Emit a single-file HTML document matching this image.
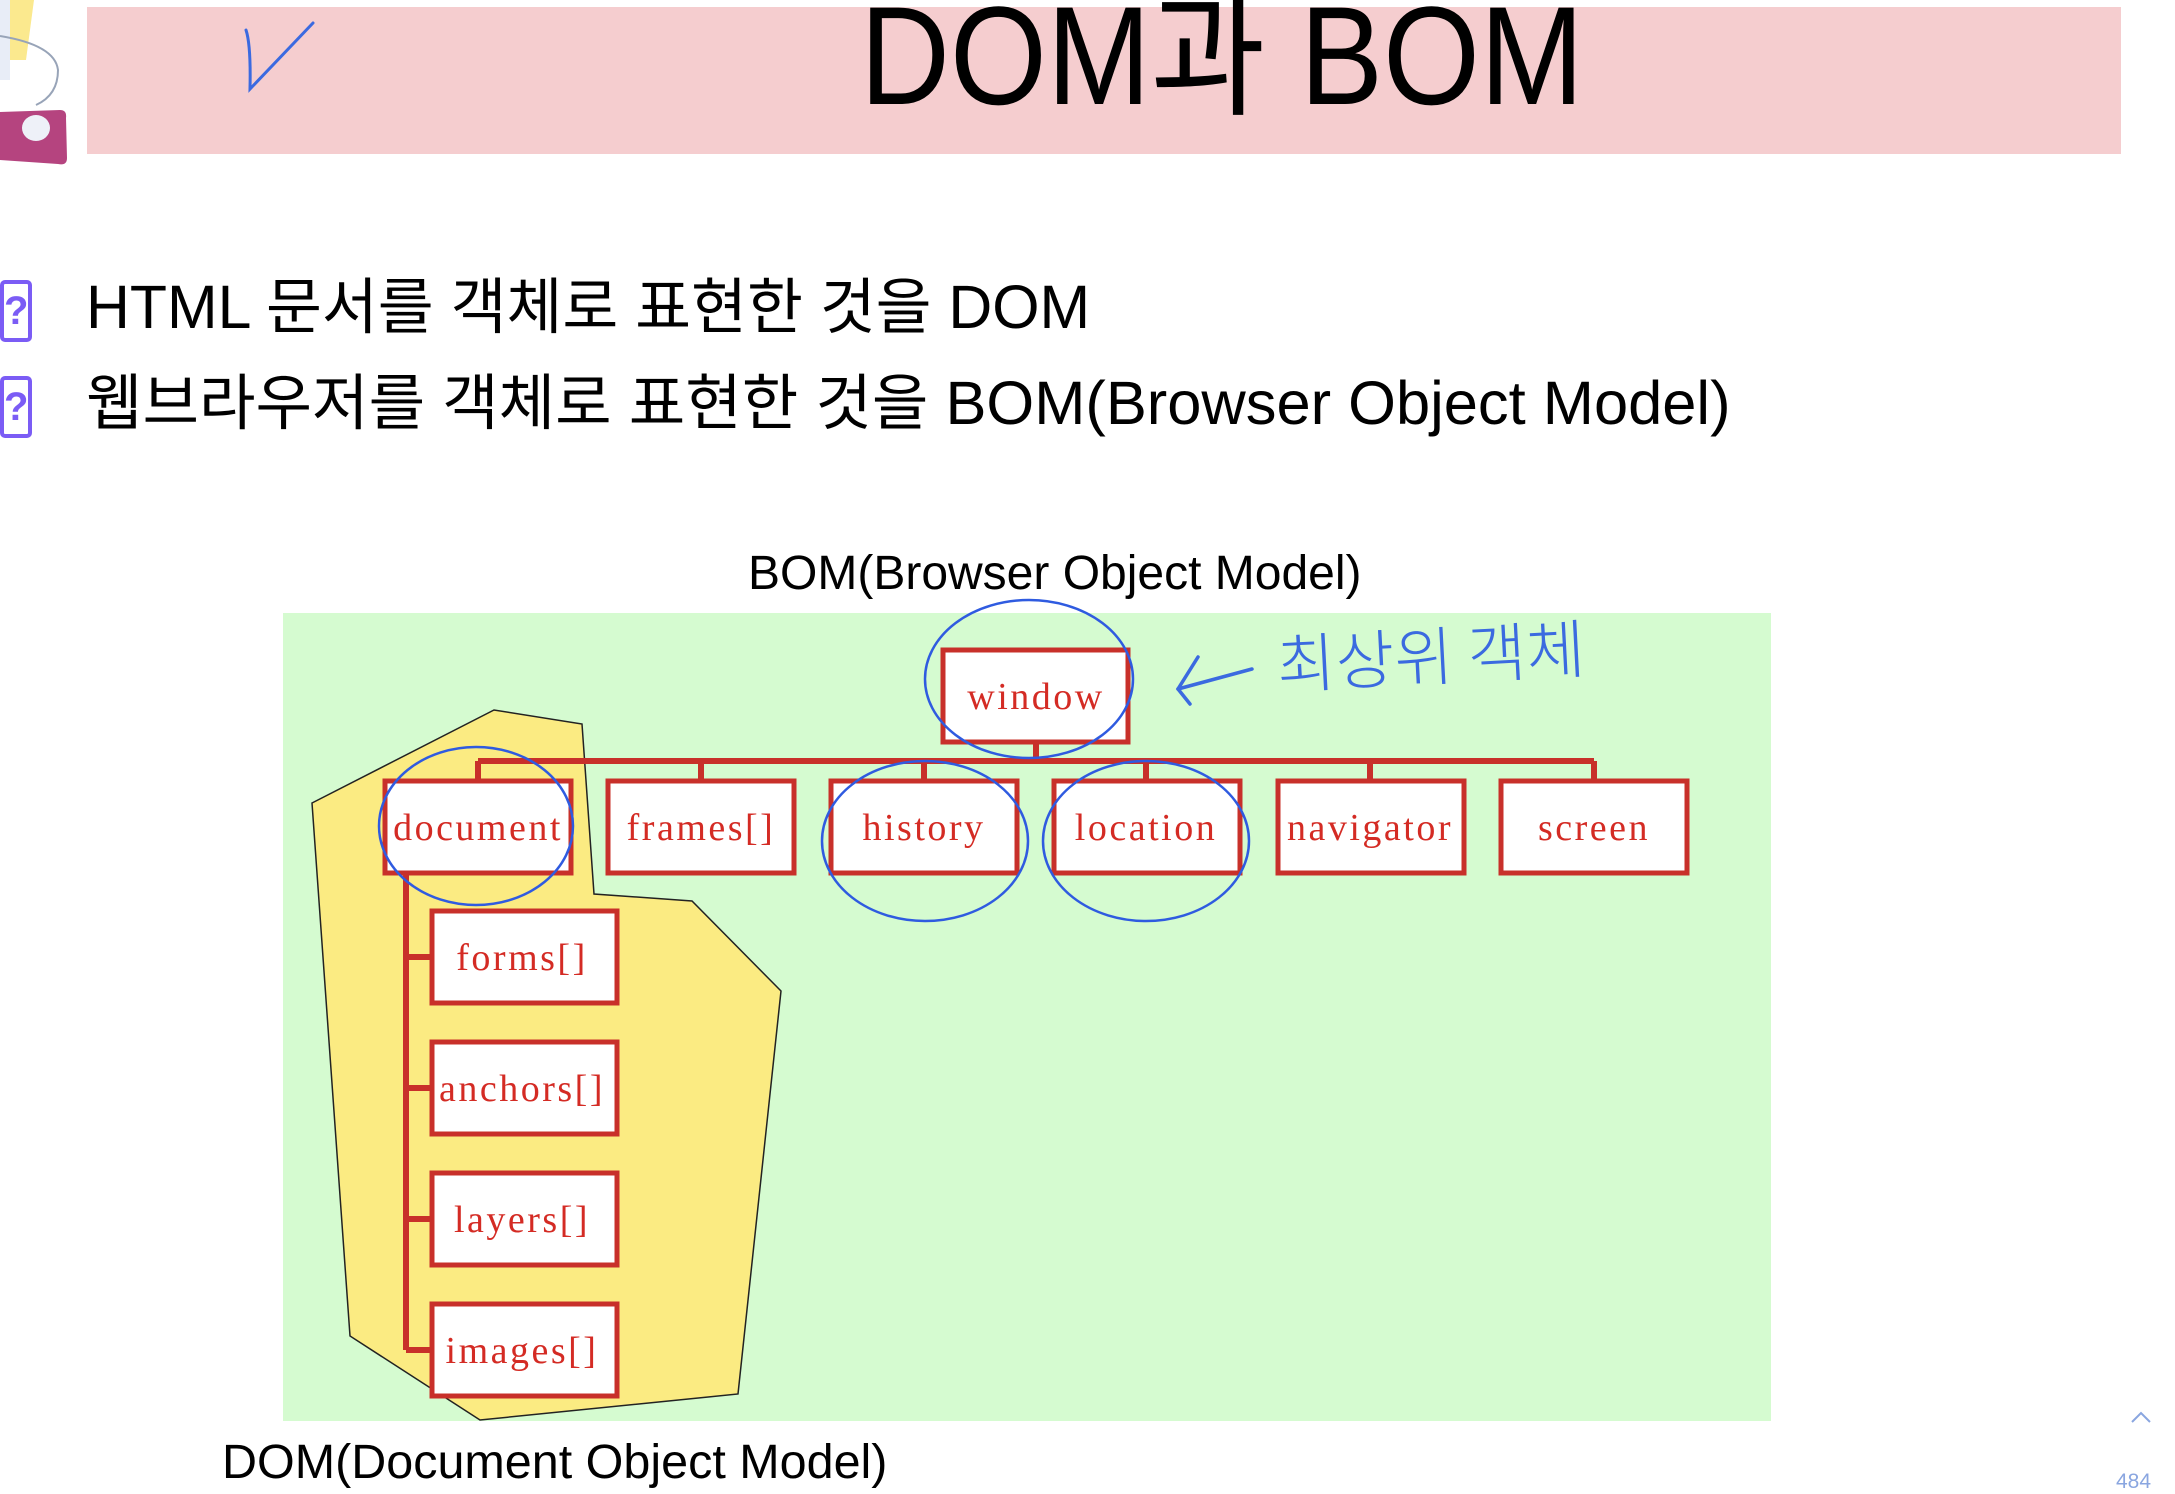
<!DOCTYPE html>
<html><head><meta charset="utf-8"><style>
body{margin:0;width:2175px;height:1491px;background:#fff;position:relative;overflow:hidden;font-family:"Liberation Sans","Noto Sans CJK KR",sans-serif}
.a{position:absolute;white-space:nowrap}
.bx{position:absolute;width:24px;height:54px;border:4px solid #7b5cf5;border-radius:5px;color:#7b5cf5;font-weight:bold;font-size:40px;text-align:center;line-height:54px}
</style></head><body>
<svg class="a" style="left:0;top:0" width="2175" height="1491">
<rect x="87" y="7" width="2034" height="147" fill="#f5cdcf"/>
<polygon points="8,0 34,0 26,60 5,60" fill="#fbe98e"/>
<rect x="0" y="0" width="10" height="80" fill="#e8edf7"/>
<path d="M0,36 Q55,45 58,70 Q58,95 36,105" stroke="#98a4b8" stroke-width="2" fill="none"/>
<path d="M0,112 L60,110 Q67,110 66,118 L67,158 Q67,166 58,164 L0,160Z" fill="#b5447f"/>
<ellipse cx="36" cy="128" rx="14" ry="13" fill="#eef1f8"/>
<path d="M246,30 Q251,45 250,89 L313,23" stroke="#3b6ae0" stroke-width="3" fill="none" stroke-linecap="round"/>
<rect x="283" y="613" width="1488" height="808" fill="#d5fbd0"/>
<polygon points="312,803 494,710 582,724 594,894 692,901 781,991 738,1394 480,1420 350,1336" fill="#fbeb82" stroke="#222" stroke-width="1.5"/>
<g stroke="#c8302a" stroke-width="6" fill="none">
<line x1="1036" y1="742" x2="1036" y2="761"/>
<line x1="478" y1="761" x2="1594" y2="761"/>
<line x1="478" y1="761" x2="478" y2="781"/><line x1="701" y1="761" x2="701" y2="781"/>
<line x1="924" y1="761" x2="924" y2="781"/><line x1="1146" y1="761" x2="1146" y2="781"/>
<line x1="1370" y1="761" x2="1370" y2="781"/><line x1="1594" y1="761" x2="1594" y2="781"/>
<line x1="406" y1="873" x2="406" y2="1350"/>
<line x1="406" y1="957" x2="432" y2="957"/><line x1="406" y1="1088" x2="432" y2="1088"/>
<line x1="406" y1="1219" x2="432" y2="1219"/><line x1="406" y1="1350" x2="432" y2="1350"/>
</g>
<g fill="#fff" stroke="#c8302a" stroke-width="5">
<rect x="943" y="650" width="185" height="92"/>
<rect x="385" y="781" width="186" height="92"/><rect x="608" y="781" width="186" height="92"/>
<rect x="831" y="781" width="186" height="92"/><rect x="1054" y="781" width="186" height="92"/>
<rect x="1278" y="781" width="186" height="92"/><rect x="1501" y="781" width="186" height="92"/>
<rect x="432" y="911" width="185" height="92"/><rect x="432" y="1042" width="185" height="92"/>
<rect x="432" y="1173" width="185" height="92"/><rect x="432" y="1304" width="185" height="92"/>
</g>
<g font-family="Liberation Serif,serif" font-size="38" letter-spacing="2.5" fill="#d42b24" text-anchor="middle">
<text x="1036" y="709">window</text>
<text x="478" y="840">document</text><text x="701" y="840">frames[]</text>
<text x="924" y="840">history</text><text x="1146" y="840">location</text>
<text x="1370" y="840">navigator</text><text x="1594" y="840">screen</text>
<text x="522" y="970">forms[]</text><text x="522" y="1101">anchors[]</text>
<text x="522" y="1232">layers[]</text><text x="522" y="1363">images[]</text>
</g>
<g stroke="#2f5be0" stroke-width="2.5" fill="none">
<ellipse cx="1029" cy="679" rx="104" ry="79"/>
<ellipse cx="476" cy="826" rx="97" ry="79"/>
<ellipse cx="925" cy="841" rx="103" ry="80"/>
<ellipse cx="1146" cy="841" rx="103" ry="80"/>
</g>
<g stroke="#3b6ae0" stroke-width="3.5" fill="none" stroke-linecap="round">
<line x1="1252" y1="669" x2="1178" y2="689"/>
<path d="M1198,657 L1178,689 L1190,704"/>
</g>
<text x="1278" y="688" font-size="64" fill="#3b6ae0" font-family="Noto Sans CJK KR,sans-serif" font-weight="300" transform="rotate(-3 1278 688)">최상위 객체</text>
<path d="M2132,1422 L2141,1413 L2150,1422" stroke="#8aa6e0" stroke-width="2" fill="none"/>
</svg>
<div class="a" style="left:860px;top:-14px;font-size:140px;line-height:140px;transform:scaleX(0.89);transform-origin:left top">DOM과 BOM</div>
<div class="bx" style="left:0;top:280px">?</div>
<div class="bx" style="left:0;top:376px">?</div>
<div class="a" style="left:86px;top:272px;font-size:61px;line-height:70px;transform:scaleX(0.996);transform-origin:left top">HTML 문서를 객체로 표현한 것을 DOM</div>
<div class="a" style="left:86px;top:368px;font-size:61px;line-height:70px;transform:scaleX(1.007);transform-origin:left top">웹브라우저를 객체로 표현한 것을 BOM(Browser Object Model)</div>
<div class="a" style="left:748px;top:546px;font-size:48px;line-height:56px;transform:scaleX(1.0);transform-origin:left top">BOM(Browser Object Model)</div>
<div class="a" style="left:222px;top:1435px;font-size:48px;line-height:56px;transform:scaleX(1.01);transform-origin:left top">DOM(Document Object Model)</div>
<div class="a" style="left:2116px;top:1470px;font-size:21px;color:#8aa6e0">484</div>
</body></html>
